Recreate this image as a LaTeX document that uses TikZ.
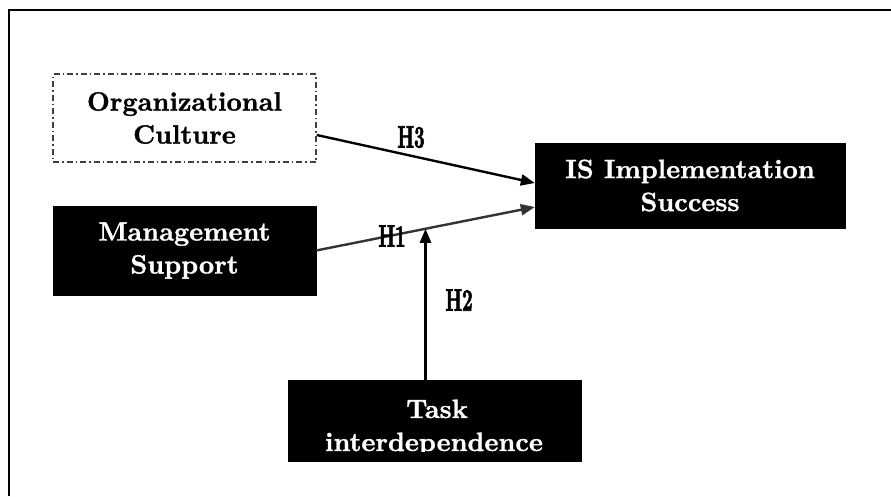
\documentclass[tikz,border=0pt]{standalone}
\usepackage{fontspec}
\newfontfamily\boxfont{lmroman10-bold.otf}[FakeBold=1.2]
\newfontfamily\hypfont{lmroman10-bold.otf}[FakeBold=2.5]
\usetikzlibrary{arrows.meta,calc}
\begin{document}
\begin{tikzpicture}[x=1pt,y=-1pt,
  boxtext/.style={font=\boxfont\fontsize{26.5}{33}\selectfont, align=center},
  darkbox/.style={rectangle, draw=black, fill=black, text=white, boxtext, inner sep=0pt},
  lightbox/.style={rectangle, draw=black!75, line width=1.5pt,
    dash pattern=on 6pt off 3pt on 1.5pt off 3pt, boxtext, inner sep=0pt},
  hyp/.style={font=\hypfont\fontsize{31}{31}\selectfont},
  link/.style={line width=2.4pt, -{Triangle[length=14pt,width=11pt]}}
]
  % canvas and frame
  \useasboundingbox (0,0) rectangle (891,496);
  \fill[white] (0,0) rectangle (891,496);
  \draw[line width=2.4pt] (9,496) -- (9,10) -- (891,10);

  % constructs
  \node[lightbox, minimum width=263pt, minimum height=88pt] (oc) at (184.5,118)
    {Organizational\\Culture};
  \node[darkbox, minimum width=263pt, minimum height=89pt] (ms) at (184.5,250.5)
    {Management\\Support};
  \node[darkbox, minimum width=310pt, minimum height=85pt] (is) at (690,185.5)
    {IS Implementation\\Success};
  \node[darkbox, minimum width=293pt, minimum height=81pt] (task) at (434.5,420.5) {};
  \node[boxtext, text=white, anchor=base, inner sep=0pt] (tasktop) at (437,418) {Task};
  \begin{scope}
    \clip (task.north west) rectangle (581,451);
    \node[boxtext, text=white, anchor=base, inner sep=0pt] (taskbot) at (434,451) {interdependence};
  \end{scope}

  % hypothesised paths
  \draw[link] ([yshift=-17pt]oc.east) -- ([yshift=2.5pt]is.west);
  \draw[link, draw=black!80] (ms.east) -- coordinate[pos=0.5] (h1mid) ([yshift=-21.5pt]is.west);
  \draw[link] (h1mid |- task.north) -- (h1mid);

  % path labels
  \node[hyp] (lh3) at (411,137) {\scalebox{0.6}[1]{H3}};
  \node[hyp] (lh1) at (392,236) {\scalebox{0.6}[1]{H1}};
  \node[hyp] (lh2) at (459,300) {\scalebox{0.6}[1]{H2}};
\end{tikzpicture}
\end{document}
